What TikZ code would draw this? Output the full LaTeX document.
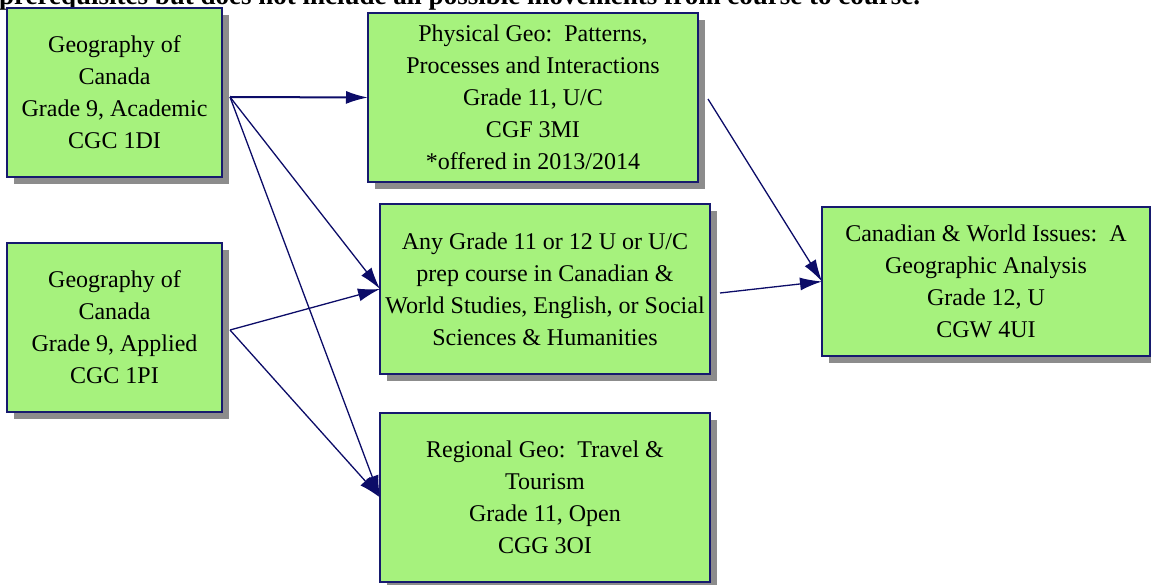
\documentclass[tikz,border=0pt]{standalone}
\usepackage{fontspec}
\setmainfont{Liberation Serif}
\usetikzlibrary{arrows.meta,calc,positioning,shadows}
\definecolor{coursefill}{RGB}{166,242,125}
\definecolor{courseline}{RGB}{22,26,110}
\definecolor{linkcolor}{RGB}{12,12,104}
\newdimen\hdim
\newdimen\wdim
\hdim=169pt
\wdim=330pt
\tikzstyle{course}=[
  draw=courseline,
  fill=coursefill,
  line width=1.6pt,
  font={\fontsize{24}{32}\selectfont},
  inner sep=0pt,
  minimum height=\hdim,
  minimum width=\wdim,
  outer sep=0pt,
  rectangle,
  align=center,
  drop shadow={shadow xshift=7pt, shadow yshift=-7pt, fill=black!45, opacity=1},
]
\tikzstyle{gradenine}=[
  course,
  minimum width=215pt,
]
\tikzstyle{link}=[
  color=linkcolor,
  line width=1.3pt,
  -{Latex[length=22pt,width=13pt]},
]
\tikzstyle{heading}=[
  anchor=base west,
  font={\fontsize{27}{30}\selectfont\bfseries},
  inner sep=0pt,
]

\begin{document}
\begin{tikzpicture}
     \useasboundingbox (0,0) rectangle (1151pt,-585pt);
     \node (note) [heading] at (-1pt,-4.5pt) {prerequisites but does not include all possible movements from course to course.};
     %%
     \node (geoacad) [gradenine] at (114.5pt,-92.5pt) {Geography of\\Canada\\Grade 9, Academic\\CGC 1DI};
     \node (geoappl) [gradenine] at (114.5pt,-327.5pt) {Geography of\\Canada\\Grade 9, Applied\\CGC 1PI};
     %%
     \node (physgeo) [course] at (533pt,-97.5pt) {Physical Geo:~~Patterns,\\Processes and Interactions\\Grade 11, U/C\\CGF 3MI\\*offered in 2013/2014};
     \node (anycourse) [course, minimum height=170pt] at (545pt,-289pt) {Any Grade 11 or 12 U or U/C\\prep course in Canadian \&\\World Studies, English, or Social\\Sciences \& Humanities};
     \node (regional) [course] at (545pt,-497.5pt) {Regional Geo:~~Travel \&\\Tourism\\Grade 11, Open\\CGG 3OI};
     %%
     \node (issues) [course, minimum width=328pt, minimum height=149pt] at (986pt,-281.5pt) {Canadian \& World Issues:~~A\\Geographic Analysis\\Grade 12, U\\CGW 4UI};
     %%
     \coordinate (acadout) at ($(geoacad.east)+(8pt,-4.5pt)$);
     \coordinate (applout) at ($(geoappl.east)+(8pt,-2.5pt)$);
     \coordinate (physout) at ($(physgeo.east)+(10pt,-1.5pt)$);
     \coordinate (anyout) at ($(anycourse.east)+(10pt,-4pt)$);
     \draw [link, line width=2pt] (acadout) -- (physgeo.west);
     \draw [link] (acadout) -- (anycourse.west);
     \draw [link] (acadout) -- (regional.west);
     \draw [link] (applout) -- (anycourse.west);
     \draw [link] (applout) -- (regional.west);
     \draw [link] (physout) -- (issues.west);
     \draw [link] (anyout) -- (issues.west);
   \end{tikzpicture}
\end{document}
